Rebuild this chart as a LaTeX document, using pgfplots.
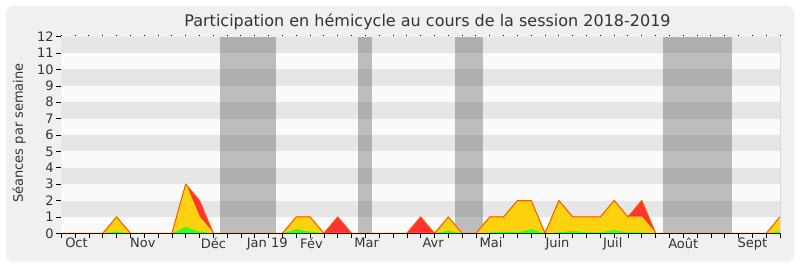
\documentclass[border=0pt]{standalone}
\usepackage{pgfplots}
\pgfplotsset{compat=1.18}
\usepackage{pgfplotstable}
\usepackage{fontspec}
\setmainfont{DejaVu Sans}
\definecolor{bgout}{HTML}{F0F0F0}
\definecolor{bandD}{HTML}{E6E6E6}
\definecolor{bandL}{HTML}{FAFAFA}
\definecolor{txt}{HTML}{333333}
\definecolor{cred}{HTML}{FF3333}
\definecolor{cyel}{HTML}{FFD20F}
\definecolor{cgreen}{HTML}{33FF22}
\definecolor{cline}{HTML}{FF5500}
\pgfplotstableread{
w total yellow green
0 0 0 0
1 0 0 0
2 0 0 0
3 0 0 0
4 1 1 0.1
5 0 0 0
6 0 0 0
7 0 0 0
8 0 0 0
9 3 3 0.4
10 2 1 0.1
11 0 0 0
12 0 0 0
13 0 0 0
14 0 0 0
15 0 0 0
16 0 0 0
17 1 1 0.25
18 1 1 0.1
19 0 0 0
20 1 0 0
21 0 0 0
22 0 0 0
23 0 0 0
24 0 0 0
25 0 0 0
26 1 0 0
27 0 0 0
28 1 1 0.15
29 0 0 0
30 0 0 0
31 1 1 0.05
32 1 1 0.1
33 2 2 0.05
34 2 2 0.25
35 0 0 0
36 2 2 0.05
37 1 1 0.15
38 1 1 0.05
39 1 1 0.05
40 2 2 0.2
41 1 1 0.05
42 2 1 0.05
43 0 0 0
44 0 0 0
45 0 0 0
46 0 0 0
47 0 0 0
48 0 0 0
49 0 0 0
50 0 0 0
51 0 0 0
52 1 1 0.1
}\datatable
\begin{document}
\begin{tikzpicture}[x=1pt,y=1pt]
\useasboundingbox (0,0) rectangle (800,267);
\fill[white] (0,0) rectangle (800,267);
\draw[fill=bgout, draw=white!97!black, line width=1pt, rounded corners=8pt] (6,5) rectangle (794,261);
\node[anchor=base, text=txt, font=\fontsize{16}{18}\selectfont] at (427.5,240) {Participation en hémicycle au cours de la session 2018-2019};
\node[rotate=90, anchor=center, text=txt, font=\fontsize{13}{15}\selectfont] at (19,134) {Séances par semaine};
\begin{axis}[
  at={(61.3pt,33.7pt)}, anchor=south west,
  scale only axis, width=718.7pt, height=196.6pt,
  xmin=0, xmax=52, ymin=0, ymax=12,
  axis x line*=bottom, axis y line*=left,
  axis line style={black, line width=0.8pt},
  xtick={0,...,52}, xticklabels={},
  ytick={0,...,12},
  tick align=outside, major tick length=5pt,
  tick style={black, line width=0.6pt},
  yticklabel style={text=txt, font=\fontsize{13}{15}\selectfont, xshift=1pt},
  xticklabel style={text=txt, font=\fontsize{13}{15}\selectfont},
  /pgf/number format/assume math mode=true,
  extra x ticks={1.1,5.9,11.0,14.9,18.1,22.1,26.9,31.1,35.9,39.9,45.0,50.0},
  extra x tick labels={Oct,Nov,Déc,Jan 19,Fév,Mar,Avr,Mai,Juin,Juil,Août,Sept},
  extra x tick style={major tick length=0pt, tick style={draw=none}, xticklabel style={yshift=-1pt}},
  clip=false,
]
\fill[bandL] (axis cs:0,0) rectangle (axis cs:52,12);
\pgfplotsinvokeforeach{1,3,5,7,9,11}{
  \fill[bandD] (axis cs:0,#1) rectangle (axis cs:52,#1+1);
}
\fill[black!80, opacity=0.3] (axis cs:11.5,0) rectangle (axis cs:15.5,12);
\fill[black!80, opacity=0.3] (axis cs:21.5,0) rectangle (axis cs:22.5,12);
\fill[black!80, opacity=0.3] (axis cs:28.5,0) rectangle (axis cs:30.5,12);
\fill[black!80, opacity=0.3] (axis cs:43.5,0) rectangle (axis cs:48.5,12);
\pgfplotsinvokeforeach{0,...,52}{
  \fill[black] (axis cs:#1,12) ++(-0.5pt,0.6pt) rectangle ++(1pt,1pt);
}
\addplot[draw=none, fill=cred] table[x=w, y=total] {\datatable} \closedcycle;
\addplot[draw=yellow, line width=0.6pt, fill=cyel] table[x=w, y=yellow] {\datatable} \closedcycle;
\addplot[draw=none, fill=cgreen] table[x=w, y=green] {\datatable} \closedcycle;
\addplot[draw=cline, line width=1pt, line join=round] table[x=w, y=total] {\datatable};
\draw[black!60!red!60!black, line width=0.8pt] (axis cs:0,0) -- (axis cs:52,0);
\draw[black!15, line width=0.8pt] (axis cs:52,0) -- (axis cs:52,12);
\end{axis}
\end{tikzpicture}
\end{document}
